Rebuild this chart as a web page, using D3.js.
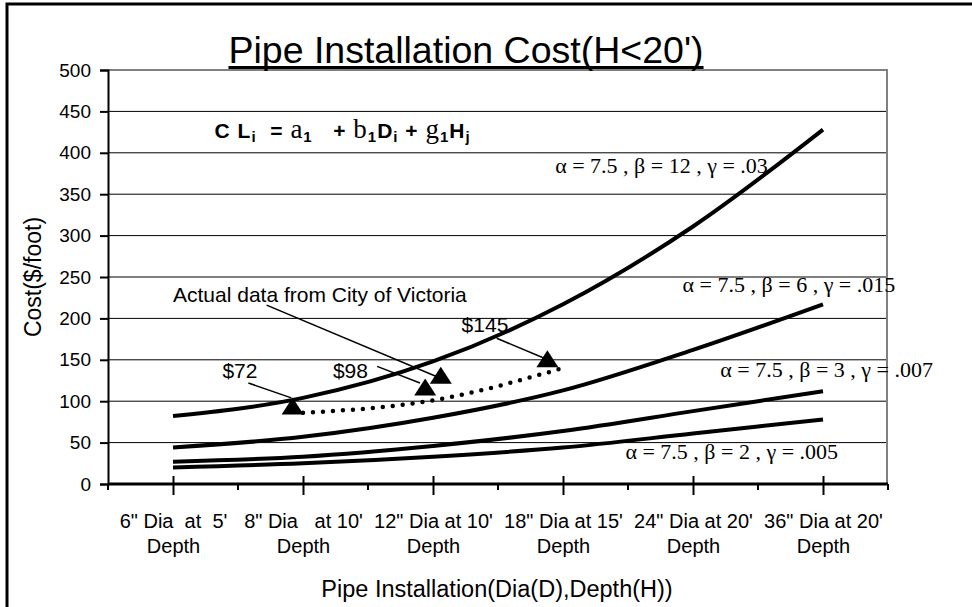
<!DOCTYPE html>
<html>
<head>
<meta charset="UTF-8">
<style>
  body { margin: 0; background: #fff; }
  svg text { font-family: Arial, "Liberation Sans", sans-serif; fill: #000; }
  svg text.serif { font-family: "Times New Roman", "Liberation Serif", serif; }
</style>
</head>
<body>
<svg width="972" height="607"></svg>
<script src="https://d3js.org/d3.v7.min.js"></script>
<script>
// x categories (first line of each label, second line is always "Depth")
const categories = ['6" Dia  at  5\'', '8" Dia   at 10\'', '12" Dia at 10\'', '18" Dia at 15\'', '24" Dia at 20\'', '36" Dia at 20\''];
const catSub = "Depth";
const yTicks = [0, 50, 100, 150, 200, 250, 300, 350, 400, 450, 500];

// cost curves ($/foot), one value per category
const costB12 = [82, 104, 148, 217, 311, 428];
const costB6 = [44, 57, 80, 113, 162, 217];
const costB3 = [27, 33, 46, 64, 88, 112];
const costB2 = [20, 25, 33, 44, 61, 78];
const curveNames = ["α = 7.5 , β = 12 , γ = .03", "α = 7.5 , β = 6 , γ = .015", "α = 7.5 , β = 3 , γ = .007", "α = 7.5 , β = 2 , γ = .005"];

// actual data from City of Victoria (categories 1..3), dotted
const actualCost = [86, 101, 140];
// triangle markers [category position, value]
const actualMarks = [[0.92, 84], [1.94, 107], [2.06, 121], [2.88, 141]];
const calloutText = ["$72", "$98", "Actual data from City of Victoria", "$145"];

// where the labels sit, in chart units [category position, value]
const curveLabelAt = [[2.94, 376], [3.92, 232], [4.21, 129], [3.48, 30]];
const calloutAt = [[0.38, 128], [1.23, 128], [0.0, 220], [2.22, 184]];
const calloutFrom = [[0.58, 122], [1.57, 142], [0.72, 216], [2.49, 176]];
const calloutTo = [[0.91, 104], [1.9, 122], [2.04, 129], [2.87, 151]];
const formulaAt = [0.32, 418];

let svg = d3.select("svg");

// outer frame (runs off the right and bottom edges)
svg.append("rect")
    .attr("x", 7).attr("y", 4)
    .attr("width", 1000).attr("height", 700)
    .attr("fill", "none").attr("stroke", "#000").attr("stroke-width", 3);

let plotL = 108, plotR = 888, plotT = 70, plotB = 484;

let x = d3.scalePoint().domain(categories).range([plotL, plotR]).padding(0.5);
let xi = d3.scaleLinear().domain([0, categories.length - 1])
    .range([x(categories[0]), x(categories[categories.length - 1])]);
let y = d3.scaleLinear().domain([0, 500]).range([plotB, plotT]);

// gridlines
svg.append("g")
    .selectAll("line")
    .data(yTicks.filter(d => d > 0 && d < 500))
    .enter().append("line")
    .attr("x1", plotL).attr("x2", plotR - 1)
    .attr("y1", d => y(d)).attr("y2", d => y(d))
    .attr("stroke", "#000").attr("stroke-width", 1);

// plot border top/right (grey)
svg.append("path")
    .attr("d", `M${plotL},${y(500)}H${plotR - 1}V${plotB}`)
    .attr("fill", "none").attr("stroke", "#808080").attr("stroke-width", 2);

// y axis
let yAxis = svg.append("g")
    .attr("transform", `translate(${plotL},0)`)
    .call(d3.axisLeft(y).tickValues(yTicks).tickSize(8).tickPadding(9));
yAxis.select(".domain").attr("stroke", "#000").attr("stroke-width", 2);
yAxis.selectAll(".tick line").attr("stroke-width", 2);
yAxis.selectAll(".tick text").style("font-size", "19px").attr("font-family", null);

// x axis
let xAxis = svg.append("g")
    .attr("transform", `translate(0,${plotB})`)
    .call(d3.axisBottom(x).tickSize(11).tickFormat(""));
xAxis.select(".domain").attr("d", `M${plotL},0H${plotR}`).attr("stroke-width", 3);
xAxis.selectAll(".tick line").attr("y1", -8).attr("stroke-width", 2);
// short ticks between categories
xAxis.selectAll(".sep")
    .data(d3.range(categories.length + 1))
    .enter().append("line")
    .attr("x1", i => plotL + i * x.step()).attr("x2", i => plotL + i * x.step())
    .attr("y1", 0).attr("y2", 6)
    .attr("stroke", "#000").attr("stroke-width", 2);
let lab = xAxis.selectAll(".tick").append("g");
lab.append("text")
    .attr("y", 44).attr("text-anchor", "middle")
    .style("font-size", "20px").style("white-space", "pre")
    .text(d => d);
lab.append("text")
    .attr("y", 69).attr("text-anchor", "middle")
    .style("font-size", "20px")
    .text(catSub);

// axis titles
svg.append("text")
    .attr("transform", `translate(41,${(plotT + plotB) / 2}) rotate(-90)`)
    .attr("text-anchor", "middle")
    .style("font-size", "23px")
    .text("Cost($/foot)");
svg.append("text")
    .attr("x", 497).attr("y", 597)
    .attr("text-anchor", "middle")
    .style("font-size", "23.5px")
    .text("Pipe Installation(Dia(D),Depth(H))");

// title with underline
let title = svg.append("text")
    .attr("x", 466).attr("y", 63)
    .attr("text-anchor", "middle")
    .style("font-size", "37.5px")
    .text("Pipe Installation Cost(H<20')");
let tw = title.node().getComputedTextLength();
svg.append("line")
    .attr("x1", 466 - tw / 2).attr("x2", 466 + tw / 2)
    .attr("y1", 67.5).attr("y2", 67.5)
    .attr("stroke", "#000").attr("stroke-width", 3);

// cost curves
let line = d3.line().x((d, i) => xi(i)).y(d => y(d)).curve(d3.curveMonotoneX);
svg.append("g")
    .selectAll("path")
    .data([costB12, costB6, costB3, costB2])
    .enter().append("path")
    .attr("d", line)
    .attr("fill", "none").attr("stroke", "#000").attr("stroke-width", 4);

// actual data (dotted)
let dotLine = d3.line().x((d, i) => xi(i + 1)).y(d => y(d)).curve(d3.curveMonotoneX);
svg.append("path")
    .datum(actualCost)
    .attr("d", dotLine)
    .attr("fill", "none").attr("stroke", "#000").attr("stroke-width", 4.5)
    .attr("stroke-linecap", "round").attr("stroke-dasharray", "0 10");

// triangles
svg.append("g")
    .selectAll("path")
    .data(actualMarks)
    .enter().append("path")
    .attr("d", d => {
        let cx = xi(d[0]), by = y(d[1]);
        return `M${cx - 11},${by}L${cx},${by - 17}L${cx + 11},${by}Z`;
    })
    .attr("fill", "#000");

// callouts
svg.append("g")
    .selectAll("line")
    .data(calloutText.map((t, i) => ({ from: calloutFrom[i], to: calloutTo[i] })))
    .enter().append("line")
    .attr("x1", d => xi(d.from[0])).attr("y1", d => y(d.from[1]))
    .attr("x2", d => xi(d.to[0])).attr("y2", d => y(d.to[1]))
    .attr("stroke", "#000").attr("stroke-width", 1.5);
svg.append("g")
    .selectAll("text")
    .data(calloutText)
    .enter().append("text")
    .attr("x", (d, i) => xi(calloutAt[i][0]))
    .attr("y", (d, i) => y(calloutAt[i][1]))
    .style("font-size", "21px")
    .text(d => d);

// curve parameter labels
svg.append("g")
    .selectAll("text")
    .data(curveNames)
    .enter().append("text")
    .attr("class", "serif")
    .attr("x", (d, i) => xi(curveLabelAt[i][0]))
    .attr("y", (d, i) => y(curveLabelAt[i][1]))
    .style("font-size", "22px")
    .text(d => d);

// formula CL_i = a_1 + b_1 D_i + g_1 H_j  (0 bold, 1 subscript, 2 serif)
const parts = [
    ["C L", 0], ["i", 1], ["  = ", 0], ["a", 2], ["1", 1], ["   + ", 0], ["b", 2], ["1", 1],
    ["D", 0], ["i", 1], [" + ", 0], ["g", 2], ["1", 1], ["H", 0], ["j", 1]
];
let f = svg.append("text")
    .attr("x", xi(formulaAt[0])).attr("y", y(formulaAt[1]))
    .style("font-size", "21px").style("font-weight", "bold")
    .style("letter-spacing", "1px").style("white-space", "pre");
parts.forEach(p => {
    let t = f.append("tspan").text(p[0]);
    if (p[1] == 1) t.attr("baseline-shift", "-28%").style("font-size", "15px");
    if (p[1] == 2) t.style("font-family", "'Times New Roman', 'Liberation Serif', serif").style("font-weight", "normal").style("font-size", "27px");
});
</script>
</body>
</html>
